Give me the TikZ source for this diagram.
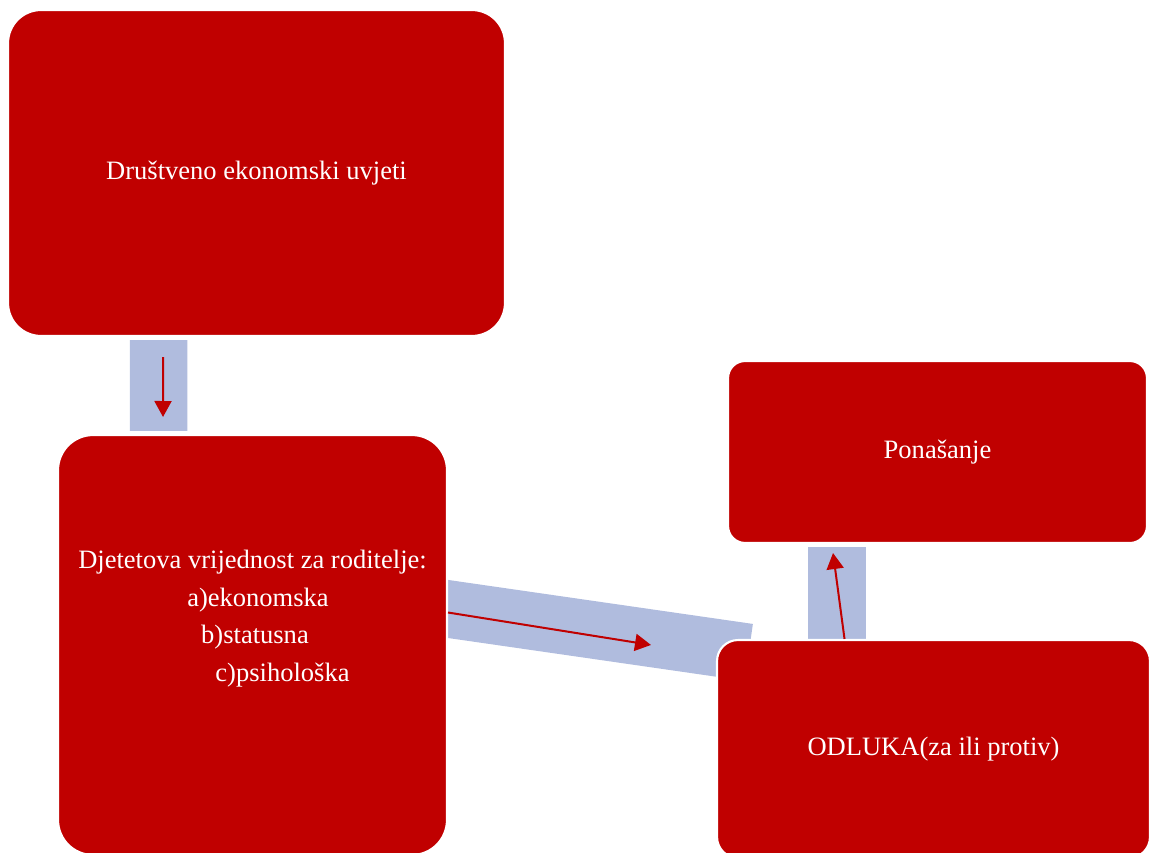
\documentclass[tikz,border=0pt]{standalone}
\usepackage{fontspec}
\setmainfont{Liberation Serif}
\usetikzlibrary{arrows.meta,positioning,backgrounds}
\definecolor{boxred}{RGB}{192,0,0}
\definecolor{barblue}{RGB}{176,188,222}

\begin{document}
\begin{tikzpicture}[
    x=0.02cm, y=-0.02cm,
    box/.style={rectangle, fill=boxred, draw=white, line width=1.2pt, text=white, align=center, font=\fontsize{15.1}{21.5}\selectfont},
    boxtext/.style={text=white, align=center, inner sep=0pt, font=\fontsize{15.1}{21.5}\selectfont},
    bar/.style={barblue, line width=1.15cm},
    redarrow/.style={-{Triangle[length=0.32cm,width=0.34cm]}, line width=0.04cm, boxred},
]
\useasboundingbox (0,0) rectangle (1149,852);

% === Boxes ===
\node[box, rounded corners=0.66cm, minimum width=9.94cm, minimum height=6.52cm] (drustvo) at (256.5,173)
    {\raisebox{-0.06cm}{Društveno ekonomski uvjeti}};

\node[box, rounded corners=0.7cm, minimum width=7.78cm, minimum height=8.4cm] (vrijednost) at (252.5,645) {};
\node[boxtext] (vrijednostlbl) at ([yshift=0.53cm]vrijednost.center)
    {Djetetova vrijednost za roditelje:\\
     \hspace*{0.22cm}a)ekonomska\\
     \hspace*{0.1cm}b)statusna\\
     \hspace*{1.2cm}c)psihološka};

\node[box, rounded corners=0.34cm, minimum width=8.38cm, minimum height=3.64cm] (ponasanje) at (937.5,452)
    {\raisebox{-0.06cm}{Ponašanje}};

\node[box, rounded corners=0.42cm, minimum width=8.66cm, minimum height=4.36cm] (odluka) at (933.5,749)
    {\raisebox{-0.04cm}{ODLUKA(za ili protiv)}};

% === Connector bars (behind the boxes) ===
\coordinate (bartop) at ([xshift=-2.01cm,yshift=-0.06cm]ponasanje.south);
\begin{scope}[on background layer]
    \draw[bar] ([xshift=-1.96cm,yshift=-0.06cm]drustvo.south) -- ([xshift=-1.88cm,yshift=0.06cm]vrijednost.north);
    \draw[bar] ([xshift=-0.2cm,yshift=0.75cm]vrijednost.east) -- ([xshift=0.656cm,yshift=-0.268cm]odluka.north west);
    \draw[bar] (bartop) -- (bartop |- odluka.north);
\end{scope}

% === Red arrows ===
\draw[redarrow] ([xshift=-1.87cm,yshift=-0.4cm]drustvo.south) -- ([xshift=-1.79cm,yshift=0.34cm]vrijednost.north);
\draw[redarrow] ([yshift=0.65cm]vrijednost.east) -- ([xshift=-1.3cm,yshift=-0.12cm]odluka.north west);
\draw[redarrow] ([xshift=-1.78cm]odluka.north) -- ([xshift=-2.09cm,yshift=-0.18cm]ponasanje.south);

\end{tikzpicture}
\end{document}
